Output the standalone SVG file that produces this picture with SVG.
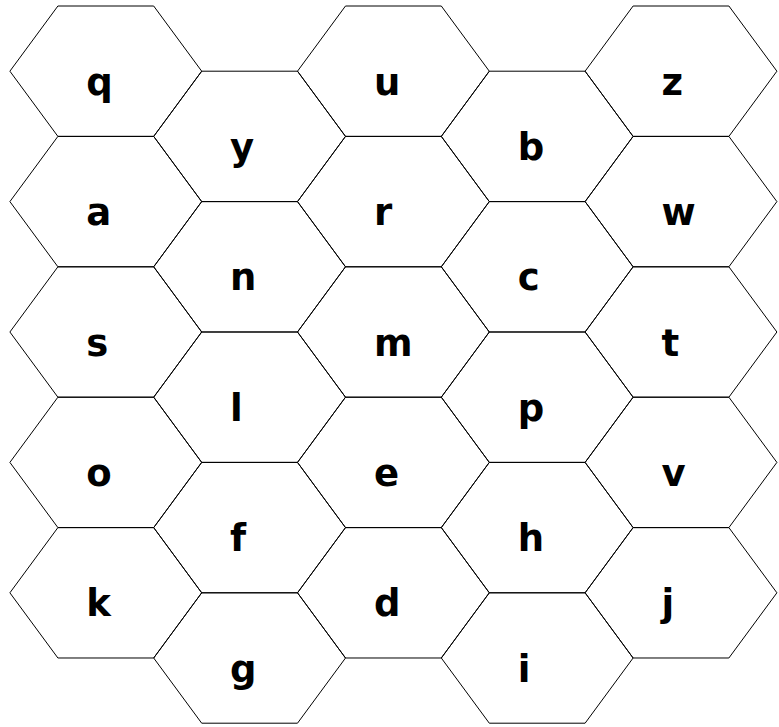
<svg xmlns="http://www.w3.org/2000/svg" xmlns:xlink="http://www.w3.org/1999/xlink" width="779" height="727" viewBox="0 0 779 727">
<style>
.hex{fill:none;stroke:#000;stroke-width:1}
.lbl{font-family:"DejaVu Sans","Liberation Sans",sans-serif;font-weight:bold;font-size:37px;fill:#000}
</style>
<defs>
<polygon id="hex" class="hex" points="-95.9,0 -47.9,-65.2 47.9,-65.2 95.9,0 47.9,65.2 -47.9,65.2"/>
</defs>
<rect width="779" height="727" fill="#fff"/>
<g id="nodes">
<g id="node-q" transform="translate(105.8,71.2)"><use href="#hex" xlink:href="#hex"/><text class="lbl" x="-19.5" y="23.5">q</text></g>
<g id="node-a" transform="translate(105.8,201.6)"><use href="#hex" xlink:href="#hex"/><text class="lbl" x="-19.5" y="23.5">a</text></g>
<g id="node-s" transform="translate(105.8,332)"><use href="#hex" xlink:href="#hex"/><text class="lbl" x="-19.5" y="23.5">s</text></g>
<g id="node-o" transform="translate(105.8,462.4)"><use href="#hex" xlink:href="#hex"/><text class="lbl" x="-19.5" y="23.5">o</text></g>
<g id="node-k" transform="translate(105.8,592.8)"><use href="#hex" xlink:href="#hex"/><text class="lbl" x="-19.5" y="23.5">k</text></g>
<g id="node-y" transform="translate(249.6,136.4)"><use href="#hex" xlink:href="#hex"/><text class="lbl" x="-19.5" y="23.5">y</text></g>
<g id="node-n" transform="translate(249.6,266.8)"><use href="#hex" xlink:href="#hex"/><text class="lbl" x="-19.5" y="23.5">n</text></g>
<g id="node-l" transform="translate(249.6,397.2)"><use href="#hex" xlink:href="#hex"/><text class="lbl" x="-19.5" y="23.5">l</text></g>
<g id="node-f" transform="translate(249.6,527.6)"><use href="#hex" xlink:href="#hex"/><text class="lbl" x="-19.5" y="23.5">f</text></g>
<g id="node-g" transform="translate(249.6,658)"><use href="#hex" xlink:href="#hex"/><text class="lbl" x="-19.5" y="23.5">g</text></g>
<g id="node-u" transform="translate(393.4,71.2)"><use href="#hex" xlink:href="#hex"/><text class="lbl" x="-19.5" y="23.5">u</text></g>
<g id="node-r" transform="translate(393.4,201.6)"><use href="#hex" xlink:href="#hex"/><text class="lbl" x="-19.5" y="23.5">r</text></g>
<g id="node-m" transform="translate(393.4,332)"><use href="#hex" xlink:href="#hex"/><text class="lbl" x="-19.5" y="23.5">m</text></g>
<g id="node-e" transform="translate(393.4,462.4)"><use href="#hex" xlink:href="#hex"/><text class="lbl" x="-19.5" y="23.5">e</text></g>
<g id="node-d" transform="translate(393.4,592.8)"><use href="#hex" xlink:href="#hex"/><text class="lbl" x="-19.5" y="23.5">d</text></g>
<g id="node-b" transform="translate(537.2,136.4)"><use href="#hex" xlink:href="#hex"/><text class="lbl" x="-19.5" y="23.5">b</text></g>
<g id="node-c" transform="translate(537.2,266.8)"><use href="#hex" xlink:href="#hex"/><text class="lbl" x="-19.5" y="23.5">c</text></g>
<g id="node-p" transform="translate(537.2,397.2)"><use href="#hex" xlink:href="#hex"/><text class="lbl" x="-19.5" y="23.5">p</text></g>
<g id="node-h" transform="translate(537.2,527.6)"><use href="#hex" xlink:href="#hex"/><text class="lbl" x="-19.5" y="23.5">h</text></g>
<g id="node-i" transform="translate(537.2,658)"><use href="#hex" xlink:href="#hex"/><text class="lbl" x="-19.5" y="23.5">i</text></g>
<g id="node-z" transform="translate(681,71.2)"><use href="#hex" xlink:href="#hex"/><text class="lbl" x="-19.5" y="23.5">z</text></g>
<g id="node-w" transform="translate(681,201.6)"><use href="#hex" xlink:href="#hex"/><text class="lbl" x="-19.5" y="23.5">w</text></g>
<g id="node-t" transform="translate(681,332)"><use href="#hex" xlink:href="#hex"/><text class="lbl" x="-19.5" y="23.5">t</text></g>
<g id="node-v" transform="translate(681,462.4)"><use href="#hex" xlink:href="#hex"/><text class="lbl" x="-19.5" y="23.5">v</text></g>
<g id="node-j" transform="translate(681,592.8)"><use href="#hex" xlink:href="#hex"/><text class="lbl" x="-19.5" y="23.5">j</text></g>
</g>
</svg>
